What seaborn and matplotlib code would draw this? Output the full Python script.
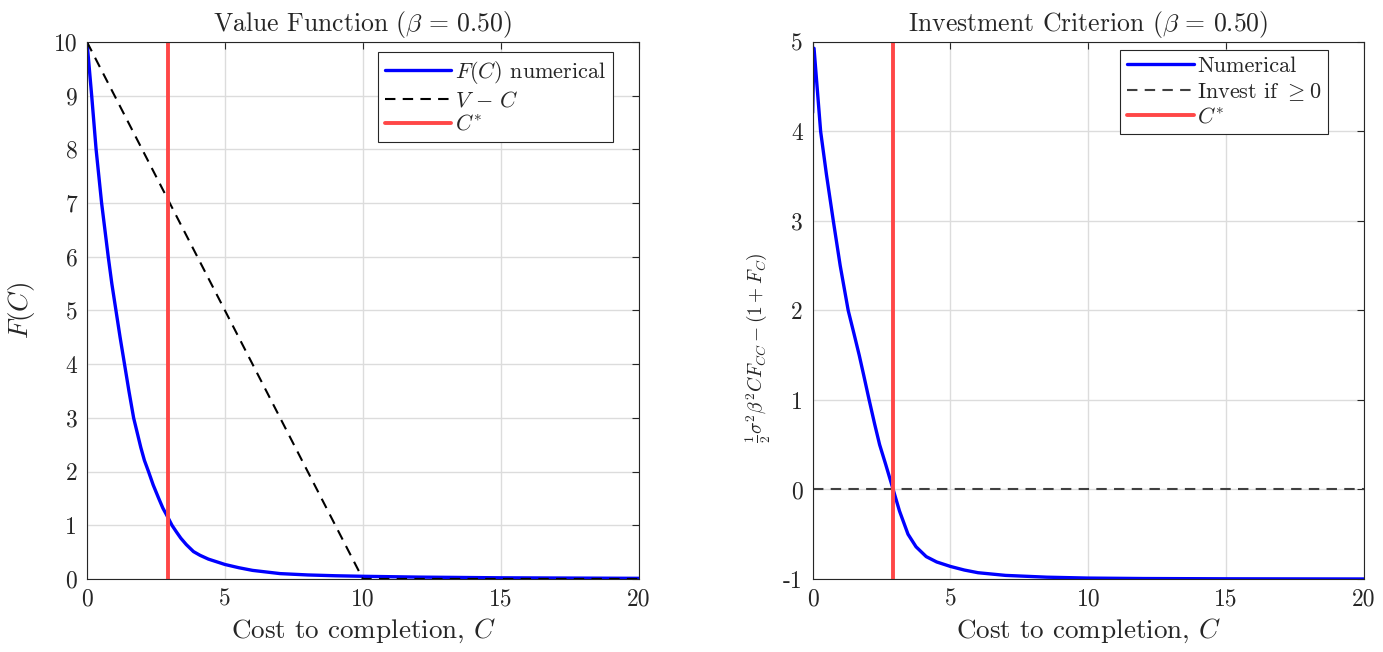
import numpy as np
import pandas as pd
import matplotlib
matplotlib.use("Agg")
import matplotlib.pyplot as plt
import seaborn as sns

# ---------------- data ----------------
cost_F = [0.0, 0.17, 0.33, 0.53, 0.77, 0.9, 1.05, 1.2, 1.36, 1.52, 1.69, 1.95,
          2.08, 2.23, 2.4, 2.6, 2.75, 2.93, 3.08, 3.25, 3.4, 3.6, 3.86, 4.1,
          4.4, 5.0, 5.5, 6.0, 6.5, 7.0, 8.0, 9.0, 10.0, 12.0, 15.0, 20.0]
F_vals = [10.0, 9.0, 8.0, 7.0, 6.0, 5.5, 5.0, 4.5, 4.0, 3.5, 3.0, 2.45,
          2.21, 2.0, 1.75, 1.5, 1.32, 1.15, 1.0, 0.87, 0.76, 0.64, 0.51, 0.44,
          0.37, 0.27, 0.21, 0.16, 0.13, 0.10, 0.075, 0.06, 0.05, 0.035, 0.022, 0.012]

cost_VC = [0.0, 10.0, 20.0]
VC_vals = [10.0, 0.0, 0.0]

cost_G = [0.0, 0.05, 0.29, 0.5, 0.75, 1.0, 1.29, 1.5, 1.69, 1.85, 2.05, 2.25,
          2.43, 2.65, 2.92, 3.15, 3.46, 3.75, 4.12, 4.5, 5.0, 5.5, 6.0, 7.0,
          8.5, 10.0, 12.0, 15.0, 20.0]
G_vals = [4.21, 4.93, 4.0, 3.52, 3.0, 2.5, 2.0, 1.74, 1.5, 1.28, 1.0, 0.73,
          0.5, 0.28, 0.0, -0.24, -0.5, -0.64, -0.75, -0.81, -0.86, -0.9, -0.93, -0.96,
          -0.98, -0.99, -0.995, -0.998, -1.0]

c_star = 2.93
invest_threshold = 0.0

x_ticks = [0, 5, 10, 15, 20]
x_ticklabels = ["0", "5", "10", "15", "20"]
yL_ticks = [0, 1, 2, 3, 4, 5, 6, 7, 8, 9, 10]
yL_ticklabels = ["0", "1", "2", "3", "4", "5", "6", "7", "8", "9", "10"]
yR_ticks = [-1, 0, 1, 2, 3, 4, 5]
yR_ticklabels = ["-1", "0", "1", "2", "3", "4", "5"]

# ---------------- style ----------------
sns.set_theme(style="white")
plt.rcParams.update({
    "font.family": "serif",
    "font.serif": ["cmr10"],
    "mathtext.fontset": "cm",
    "axes.unicode_minus": False,
    "axes.formatter.use_mathtext": True,
    "xtick.direction": "in",
    "ytick.direction": "in",
    "xtick.top": True,
    "ytick.right": True,
    "xtick.major.size": 5,
    "ytick.major.size": 5,
    "xtick.major.width": 0.8,
    "ytick.major.width": 0.8,
    "xtick.color": "#262626",
    "ytick.color": "#262626",
    "axes.edgecolor": "#262626",
    "axes.linewidth": 0.8,
    "grid.color": "#dcdcdc",
    "grid.linewidth": 1.0,
})

BLUE = "#0000ff"
RED = "#ff4747"

fig = plt.figure(figsize=(13.83, 6.52), dpi=100)
axL = fig.add_axes([0.0629, 0.112, 0.399, 0.8236])
axR = fig.add_axes([0.5876, 0.112, 0.3986, 0.8236])

dfF = pd.DataFrame({"C": cost_F, "F": F_vals})
dfVC = pd.DataFrame({"C": cost_VC, "V": VC_vals})
dfG = pd.DataFrame({"C": cost_G, "G": G_vals})

# Left panel
sns.lineplot(data=dfF, x="C", y="F", ax=axL, color=BLUE, lw=2.4,
             label=r"$F(C)$ numerical", sort=False, estimator=None)
sns.lineplot(data=dfVC, x="C", y="V", ax=axL, color="black", lw=1.5,
             linestyle=(0, (5, 3.5)), label=r"$V\,-\,C$", sort=False, estimator=None)
axL.axvline(c_star, color=RED, lw=2.8, label=r"$C^{*}$")

# Right panel
sns.lineplot(data=dfG, x="C", y="G", ax=axR, color=BLUE, lw=2.4,
             label="Numerical", sort=False, estimator=None)
axR.axhline(invest_threshold, color="#404040", lw=1.5, linestyle=(0, (5, 3.5)),
            label=r"Invest if $\geq 0$")
axR.axvline(c_star, color=RED, lw=2.8, label=r"$C^{*}$")

for ax, yt, ytl, ylim in [(axL, yL_ticks, yL_ticklabels, (0, 10)),
                          (axR, yR_ticks, yR_ticklabels, (-1, 5))]:
    ax.set_xlim(0, 20)
    ax.set_ylim(*ylim)
    ax.set_xticks(x_ticks)
    ax.set_xticklabels(x_ticklabels)
    ax.set_yticks(yt)
    ax.set_yticklabels(ytl)
    ax.tick_params(labelsize=17, pad=7)
    ax.grid(True)
    ax.set_axisbelow(True)
    for s in ax.spines.values():
        s.set_visible(True)
    ax.set_xlabel(r"Cost to completion, $C$", fontsize=19.5, labelpad=4)

axL.set_ylabel(r"$F(C)$", fontsize=19.5, labelpad=12)
axR.set_ylabel(r"$\frac{1}{2}\sigma^2\beta^2 C F_{CC} - (1+F_C)$", fontsize=14)
axR.yaxis.set_label_coords(-0.072, 0.43)
axL.set_title(r"Value Function ($\beta\, =\, 0.50$)", fontsize=18.5, pad=8)
axR.set_title(r"Investment Criterion ($\beta\, =\, 0.50$)", fontsize=18.5, pad=8)

legkw = dict(loc="upper right", fontsize=16, frameon=True, fancybox=False,
             framealpha=1, edgecolor="#262626", handlelength=3.0,
             handletextpad=0.15, borderpad=0.3, labelspacing=0.2,
             borderaxespad=0)
lgL = axL.legend(bbox_to_anchor=(0.953, 0.981), **legkw)
lgR = axR.legend(bbox_to_anchor=(0.935, 0.985), **legkw)
for lg in (lgL, lgR):
    lg.get_frame().set_linewidth(0.8)

fig.savefig("out.png", dpi=100)
